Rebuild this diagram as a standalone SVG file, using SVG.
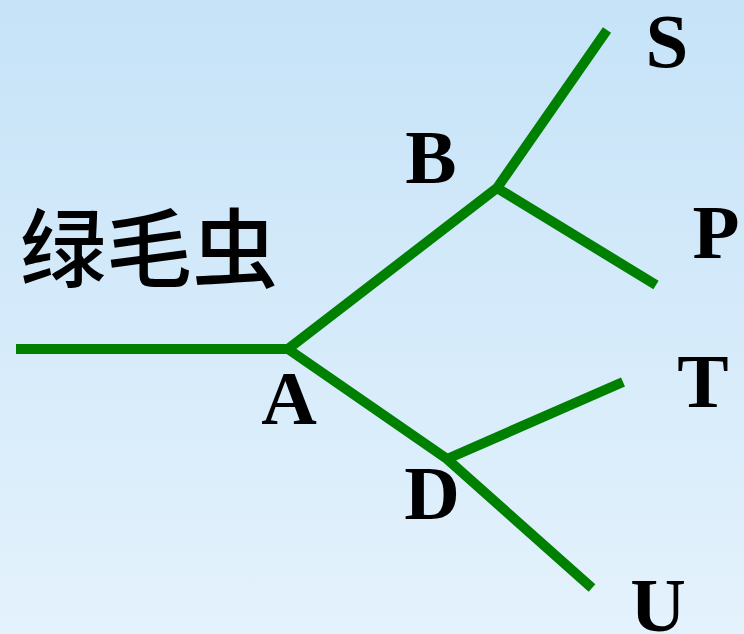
<svg xmlns="http://www.w3.org/2000/svg" width="744" height="634" viewBox="0 0 744 634">
<defs>
<linearGradient id="bg" x1="0" y1="0" x2="0" y2="1">
<stop offset="0" stop-color="#c6e3f8"/>
<stop offset="1" stop-color="#e4f2fc"/>
</linearGradient>
<style>
.br{fill:none;stroke:#008000;stroke-width:10;stroke-linecap:butt;stroke-linejoin:miter}
.lb{font-family:'Liberation Serif','Times New Roman',serif;font-weight:bold;font-size:77px;fill:#000;text-anchor:middle}
.cn{font-family:'Noto Sans CJK SC','Noto Sans CJK JP',sans-serif;font-size:86px;font-weight:500;fill:#000}
</style>
</defs>
<rect width="744" height="634" fill="url(#bg)"/>
<g id="connectors">
<path class="br" d="M16,349 L288,349 L497,188 L607,30"/>
<path class="br" d="M288,349 L447,459 L592,588"/>
<path class="br" d="M497,188 L656,285"/>
<path class="br" d="M447,459 L623,382"/>
</g>
<g id="title"><text class="cn" x="20" y="281">绿毛虫</text></g>
<g id="A"><text class="lb" x="289" y="424">A</text></g>
<g id="B"><text class="lb" x="431" y="183">B</text></g>
<g id="D"><text class="lb" x="432" y="519">D</text></g>
<g id="S"><text class="lb" x="667" y="67">S</text></g>
<g id="P"><text class="lb" x="716" y="258">P</text></g>
<g id="T"><text class="lb" x="703" y="407">T</text></g>
<g id="U"><text class="lb" x="658" y="631">U</text></g>
</svg>
